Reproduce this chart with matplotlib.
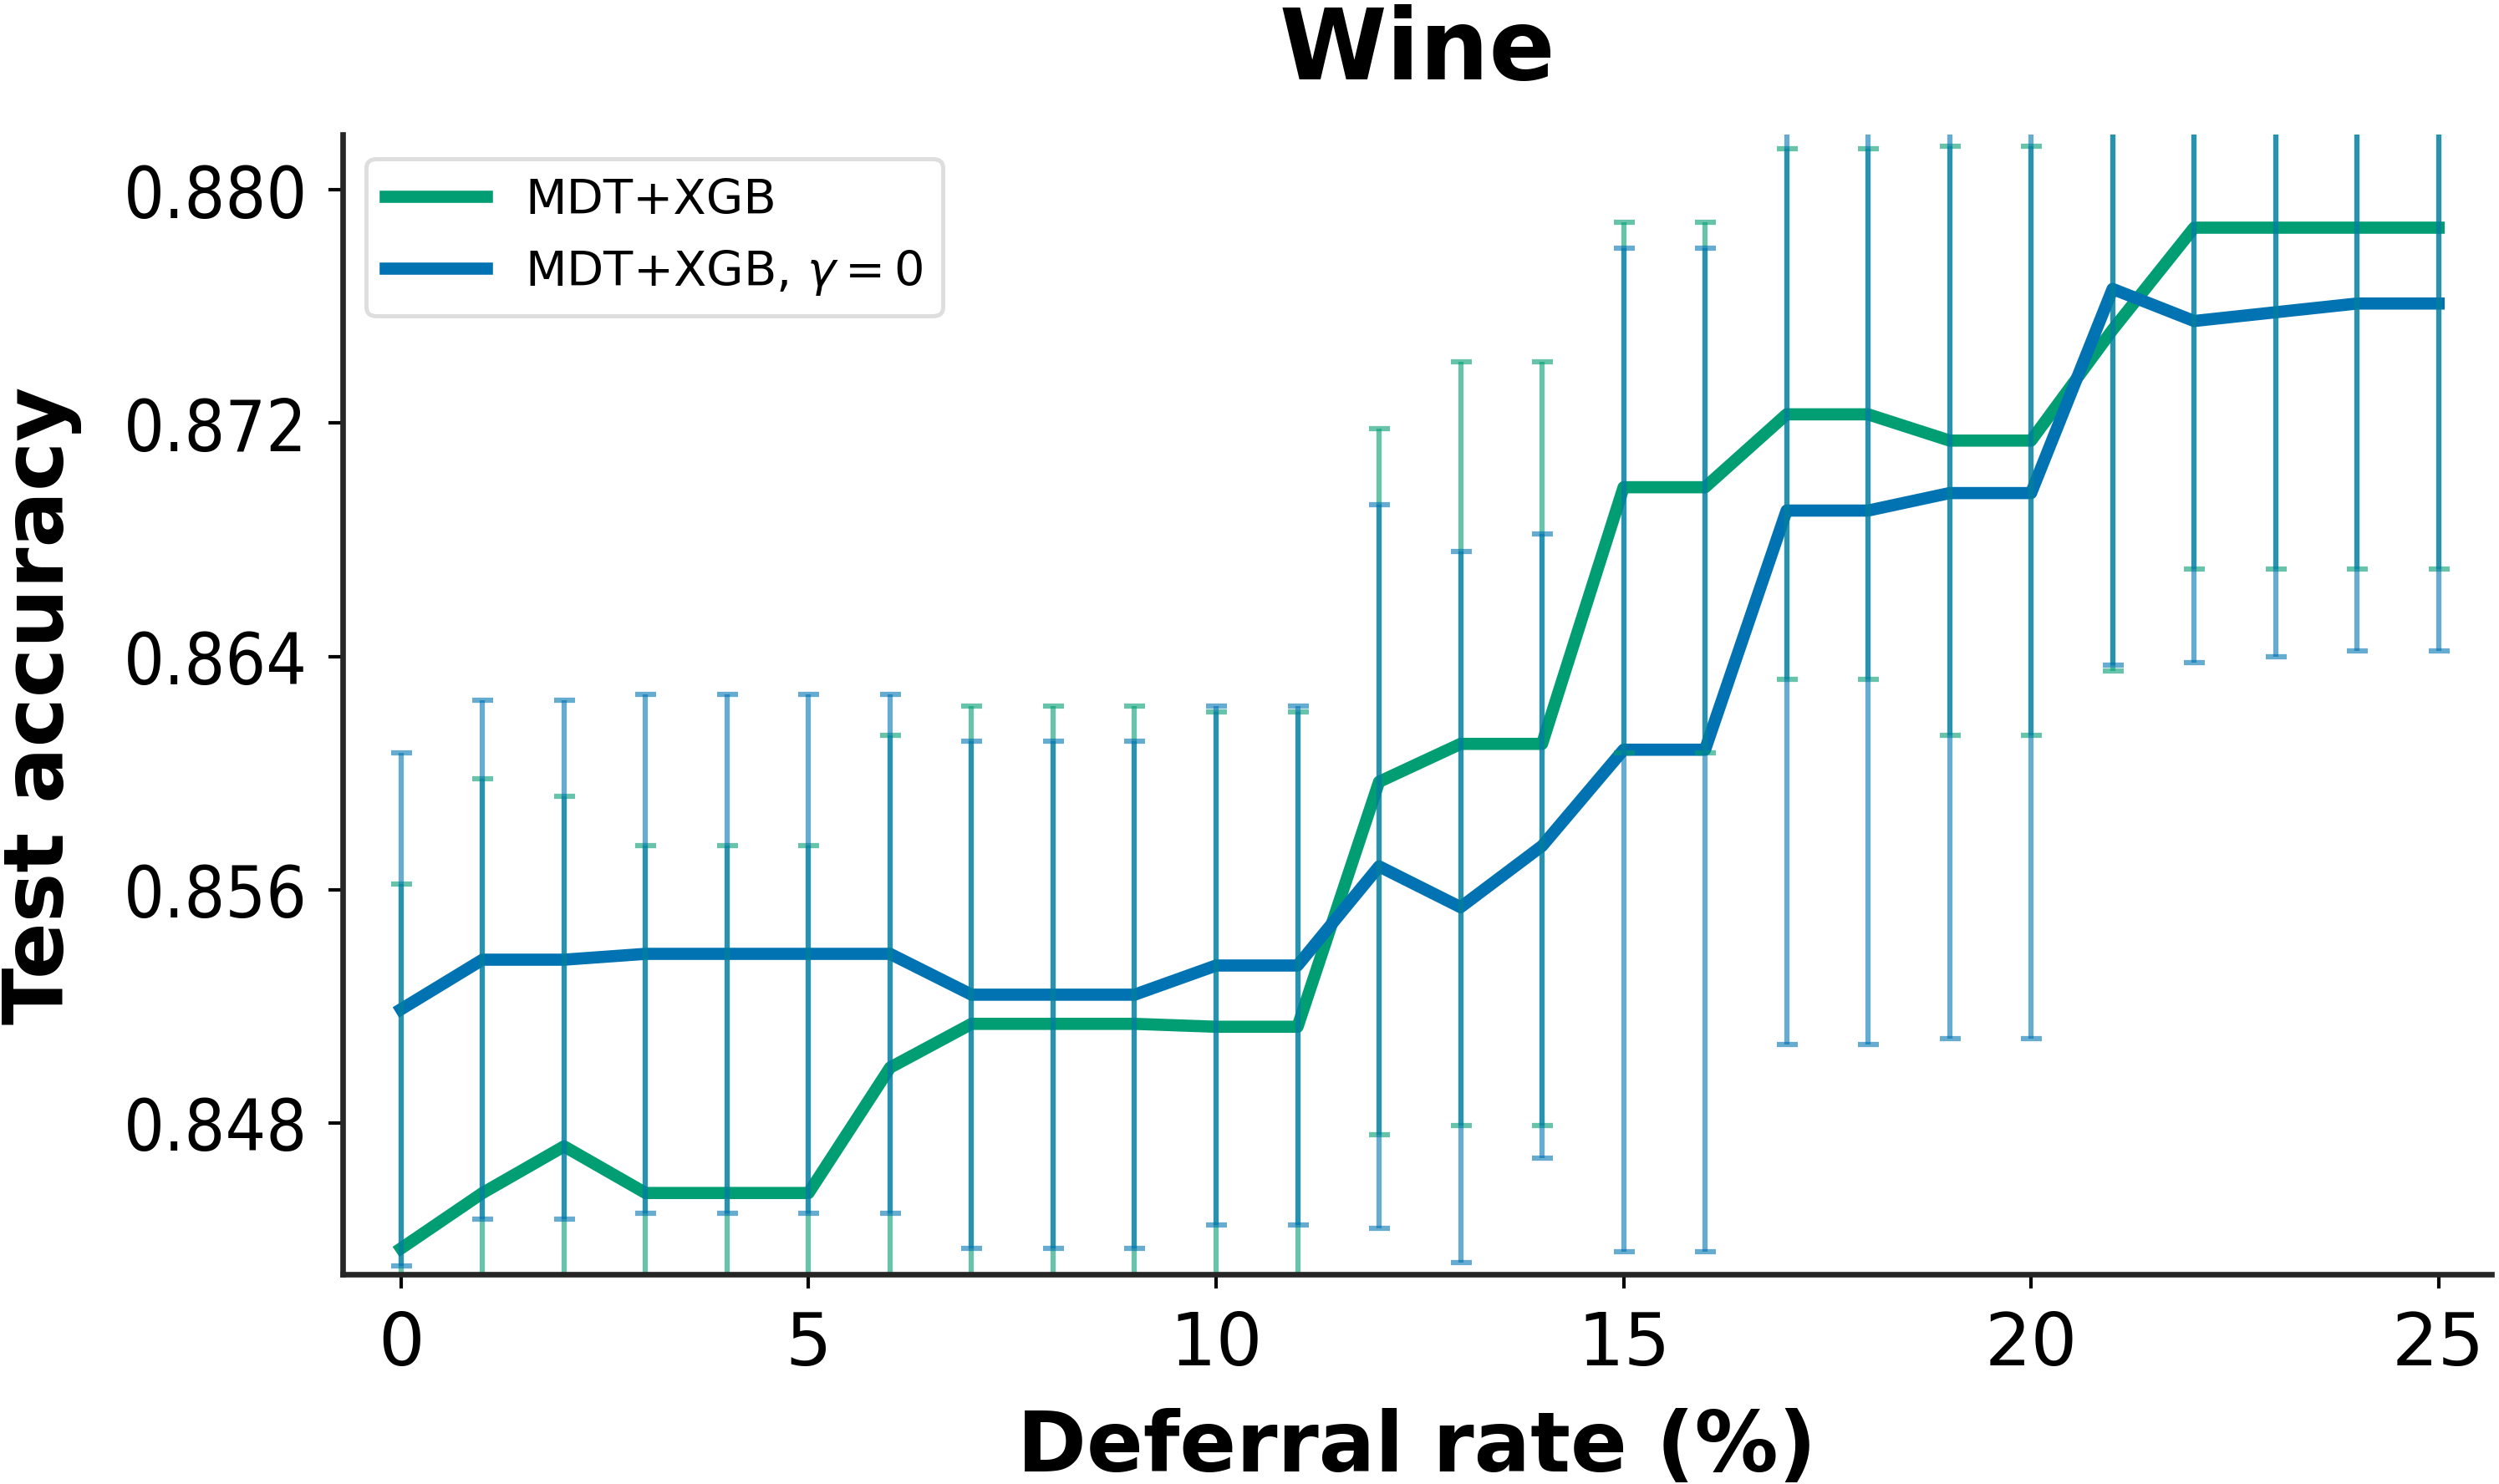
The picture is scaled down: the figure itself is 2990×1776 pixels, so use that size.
import numpy as np
import matplotlib
matplotlib.use("Agg")
import matplotlib.pyplot as plt

# --- data ---
deferral = list(range(26))

mdt_acc = [0.8437, 0.8456, 0.8472, 0.8456, 0.8456, 0.8456, 0.8499, 0.8514, 0.8514, 0.8514,
           0.8513, 0.8513, 0.8597, 0.8610, 0.8610, 0.8698, 0.8698, 0.8723, 0.8723, 0.8714,
           0.8714, 0.8752, 0.8787, 0.8787, 0.8787, 0.8787]
mdt_err = [0.0125, 0.0142, 0.0120, 0.0119, 0.0119, 0.0119, 0.0114, 0.0109, 0.0109, 0.0109,
           0.0108, 0.0108, 0.0121, 0.0131, 0.0131, 0.0091, 0.0091, 0.0091, 0.0091, 0.0101,
           0.0101, 0.0117, 0.0117, 0.0117, 0.0117, 0.0117]

g0_acc = [0.8519, 0.8536, 0.8536, 0.8538, 0.8538, 0.8538, 0.8538, 0.8524, 0.8524, 0.8524,
          0.8534, 0.8534, 0.8568, 0.8554, 0.8575, 0.8608, 0.8608, 0.8690, 0.8690, 0.8696,
          0.8696, 0.8766, 0.8755, 0.8758, 0.8761, 0.8761]
g0_err = [0.0088, 0.0089, 0.0089, 0.0089, 0.0089, 0.0089, 0.0089, 0.0087, 0.0087, 0.0087,
          0.0089, 0.0089, 0.0124, 0.0122, 0.0107, 0.0172, 0.0172, 0.0183, 0.0183, 0.0187,
          0.0187, 0.0129, 0.0117, 0.0118, 0.0119, 0.0119]

yticks = [0.848, 0.856, 0.864, 0.872, 0.880]
xticks = [0, 5, 10, 15, 20, 25]

GREEN = "#029e73"
BLUE = "#0173b2"

fig = plt.figure(figsize=(9.967, 5.923), dpi=300)
ax = fig.add_axes([0.137, 0.141, 0.860, 0.768])

# lines first, error bars drawn over them
ax.plot(deferral, mdt_acc, color=GREEN, lw=3.5, label="MDT+XGB")
ax.plot(deferral, g0_acc, color=BLUE, lw=3.5, label=r"MDT+XGB, $\gamma = 0$")

ax.errorbar(deferral, mdt_acc, yerr=mdt_err, fmt="none", ecolor=GREEN,
            elinewidth=1.5, capsize=3, capthick=1.5, alpha=0.6)
ax.errorbar(deferral, g0_acc, yerr=g0_err, fmt="none", ecolor=BLUE,
            elinewidth=1.5, capsize=3, capthick=1.5, alpha=0.6)

ax.set_xlim(-0.72, 25.65)
ax.set_ylim(0.8428, 0.8819)
ax.set_yticks(yticks)
ax.set_yticklabels([f"{t:.3f}" for t in yticks], fontstretch="condensed")
ax.set_xticks(xticks)

for side in ["top", "right"]:
    ax.spines[side].set_visible(False)
for side in ["left", "bottom"]:
    ax.spines[side].set_linewidth(1.6)
    ax.spines[side].set_color("#262626")
ax.tick_params(axis="x", labelsize=21, length=4, width=1, pad=6)
ax.tick_params(axis="y", labelsize=20.5, length=4, width=1, pad=6)

ax.set_xlabel("Deferral rate (%)", fontsize=24, fontweight="bold", labelpad=8)
ax.set_ylabel("Test accuracy", fontsize=24, fontweight="bold", labelpad=12)
ax.set_title("Wine", fontsize=28, fontweight="bold", pad=16)

leg = ax.legend(loc="upper left", fontsize=13.8, handlelength=2.1,
                frameon=True, fancybox=True, borderpad=0.4, labelspacing=0.5)
leg.get_frame().set_edgecolor("#d6d6d6")
leg.get_frame().set_linewidth(1.2)

fig.savefig("out.png", dpi=300)
